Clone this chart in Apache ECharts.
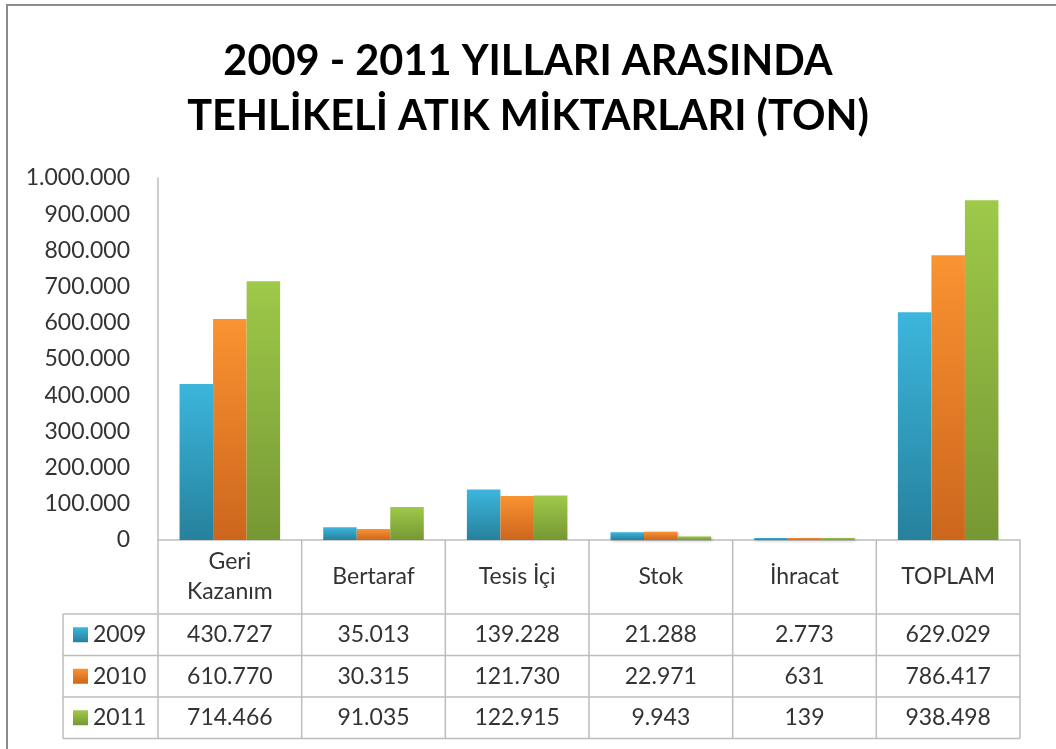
<!DOCTYPE html>
<html lang="tr">
  <head>
    <meta charset="UTF-8" />
    <title>Tehlikeli Atık Miktarları</title>
    <script src="https://cdn.jsdelivr.net/npm/echarts@6.0.0/dist/echarts.min.js"></script>
    <style>
      html, body { margin: 0; padding: 0; background: #fff; }
    </style>
  </head>
  <body>
    <div id="main" style="width: 1056px; height: 749px"></div>
    <script type="text/javascript">
      // data (tons)
      const categories = ["Geri\nKazanım", "Bertaraf", "Tesis İçi", "Stok", "İhracat", "TOPLAM"];
      const years = ["2009", "2010", "2011"];
      const values2009 = [430727, 35013, 139228, 21288, 2773, 629029];
      const values2010 = [610770, 30315, 121730, 22971, 631, 786417];
      const values2011 = [714466, 91035, 122915, 9943, 139, 938498];
      const yMax = 1000000;
      const yStep = 100000;

      const seriesValues = [values2009, values2010, values2011];
      const colors = [
        ["#3cb6dd", "#26819c"],
        ["#fa9331", "#cc661d"],
        ["#9ec949", "#769834"],
      ];
      const font = "Lato, 'Open Sans', sans-serif";
      const textColor = "#333";
      const lineColor = "#bdbdbd";

      // Turkish style thousands separator
      function fmt(n) {
        return String(n).replace(/\B(?=(\d{3})+(?!\d))/g, ".");
      }
      function grad(c) {
        return new echarts.graphic.LinearGradient(0, 0, 0, 1, [
          { offset: 0, color: c[0] },
          { offset: 1, color: c[1] },
        ]);
      }

      let myChart = echarts.init(document.getElementById("main"));

      let options = {
        animation: false,
        backgroundColor: "#fff",
        title: {
          text: "2009 - 2011 YILLARI ARASINDA\nTEHLİKELİ ATIK MİKTARLARI (TON)",
          left: "center",
          top: 29,
          textStyle: {
            fontFamily: font,
            fontSize: 41.5,
            fontWeight: "bold",
            lineHeight: 55,
            color: "#000",
          },
        },
        grid: { left: 158, right: 36, top: 178, bottom: 209 },
        xAxis: {
          type: "category",
          data: categories,
          axisLine: { lineStyle: { color: lineColor, width: 1.5 } },
          axisTick: { show: false },
          axisLabel: { show: false },
        },
        yAxis: {
          type: "value",
          min: 0,
          max: yMax,
          interval: yStep,
          axisLine: { show: true, lineStyle: { color: lineColor, width: 1.5 } },
          axisTick: { show: false },
          splitLine: { show: false },
          axisLabel: {
            formatter: (v) => fmt(v),
            color: textColor,
            fontFamily: font,
            fontSize: 23,
            margin: 28,
          },
        },
        series: years.map((y, k) => ({
          name: y,
          type: "bar",
          data: seriesValues[k],
          barGap: "0%",
          barCategoryGap: "30%",
          barMinHeight: 2,
          itemStyle: {
            color: grad(colors[k]),
            shadowBlur: 3,
            shadowColor: "rgba(0,0,0,0.25)",
            shadowOffsetX: 1,
            shadowOffsetY: 1,
          },
        })),
      };
      myChart.setOption(options);

      // data table under the plot, built from the same arrays
      const axisY = myChart.convertToPixel({ yAxisIndex: 0 }, 0);
      const c0 = myChart.convertToPixel({ xAxisIndex: 0 }, 0);
      const c1 = myChart.convertToPixel({ xAxisIndex: 0 }, 1);
      const colW = c1 - c0;
      const tableLeft = 63;
      const plotLeft = c0 - colW / 2;
      const plotRight = c0 + colW * (categories.length - 0.5);
      const headerBottom = 614;
      const rowH = 41.5;
      const tableBottom = headerBottom + rowH * years.length;
      const g = [];
      const line = (x1, y1, x2, y2) =>
        g.push({
          type: "line",
          shape: { x1, y1, x2, y2 },
          style: { stroke: lineColor, lineWidth: 1.5 },
        });
      const text = (x, y, s, extra) =>
        g.push({
          type: "text",
          x,
          y,
          style: Object.assign(
            {
              text: s,
              fill: textColor,
              font: "23px " + font,
              align: "center",
              verticalAlign: "middle",
            },
            extra || {}
          ),
        });

      // vertical lines
      for (let i = 0; i <= categories.length; i++) {
        const x = plotLeft + i * colW;
        line(x, axisY, x, tableBottom);
      }
      line(tableLeft, headerBottom, tableLeft, tableBottom);
      // horizontal lines
      for (let r = 0; r <= years.length; r++) {
        const y = headerBottom + r * rowH;
        line(tableLeft, y, plotRight, y);
      }
      // header
      categories.forEach((c, i) => {
        text(c0 + i * colW, (axisY + headerBottom) / 2, c, { lineHeight: 30 });
      });
      // rows
      years.forEach((y, k) => {
        const cy = headerBottom + (k + 0.5) * rowH;
        g.push({
          type: "rect",
          shape: { x: 73, y: cy - 7.5, width: 15, height: 15 },
          style: { fill: grad(colors[k]) },
        });
        text(93, cy, y, { align: "left" });
        seriesValues[k].forEach((v, i) => text(c0 + i * colW, cy, fmt(v)));
      });
      // chart frame
      g.push({
        type: "rect",
        shape: { x: 7, y: 5, width: 1100, height: 800 },
        style: { fill: null, stroke: "#8c8c8c", lineWidth: 2 },
      });

      myChart.setOption({ graphic: g });
    </script>
  </body>
</html>
